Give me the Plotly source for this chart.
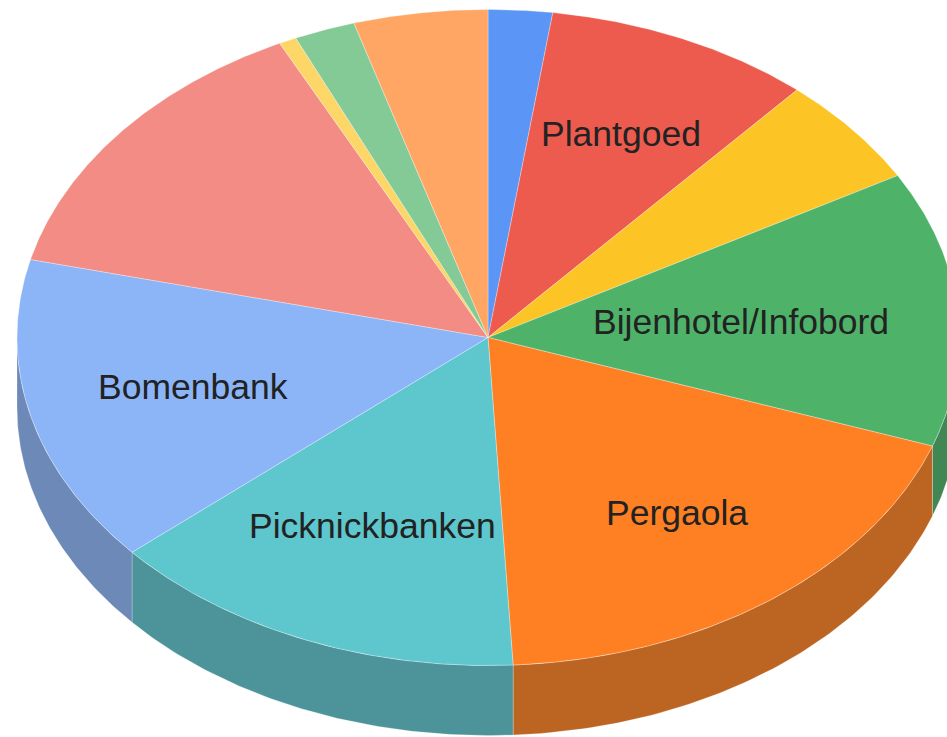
import numpy as np
import plotly.graph_objects as go

# ---- data ----
categories = ["", "Plantgoed", "", "Bijenhotel/Infobord", "Pergaola",
              "Picknickbanken", "Bomenbank", "", "", "", ""]
values = [2.2, 9.2, 5.4, 13.6, 18.8, 14.5, 15.2, 13.9, 0.6, 2.1, 4.6]
base_colors = ["#4285F4", "#EA4335", "#FBBC04", "#34A853", "#FF6D01", "#46BDC6",
               "#7BAAF7", "#F07B72", "#FCD04F", "#71C287", "#FF994D"]

# ---- geometry / style ----
W, H = 947, 737
cx, cy = 488, 337.5
rx, ry = 471, 328
depth = 70
alpha = 0.87
label_frac = [0.66, 0.68, 0.66, 0.54, 0.67, 0.625, 0.645, 0.66, 0.66, 0.66, 0.66]
font_size = 35.5


def hex_rgb(h):
    h = h.lstrip("#")
    return [int(h[i:i + 2], 16) for i in (0, 2, 4)]


def blend(rgb, k=1.0):
    return "rgb({},{},{})".format(*[round(c * k * alpha + 255 * (1 - alpha)) for c in rgb])


def pt(a, dy=0.0):
    return cx + rx * np.sin(a), cy - ry * np.cos(a) + dy


vals = np.array(values, dtype=float)
cum = np.concatenate([[0], np.cumsum(vals)]) / vals.sum() * 2 * np.pi

fig = go.Figure()

# sides (front half of the rim)
for i in range(len(vals)):
    a0, a1 = cum[i], cum[i + 1]
    s0, s1 = max(a0, np.pi / 2), min(a1, 3 * np.pi / 2)
    if s1 <= s0:
        continue
    t = np.linspace(s0, s1, 80)
    xt, yt = pt(t)
    xb, yb = pt(t[::-1], depth)
    fig.add_trace(go.Scatter(
        x=np.concatenate([xt, xb, xt[:1]]), y=np.concatenate([yt, yb, yt[:1]]),
        mode="lines", fill="toself", fillcolor=blend(hex_rgb(base_colors[i]), 0.7),
        line=dict(width=1, color="rgba(255,255,255,0.25)"), hoverinfo="skip"))

# top faces
for i in range(len(vals)):
    a0, a1 = cum[i], cum[i + 1]
    t = np.linspace(a0, a1, max(4, int(200 * (a1 - a0))))
    xa, ya = pt(t)
    fig.add_trace(go.Scatter(
        x=np.concatenate([[cx], xa, [cx]]), y=np.concatenate([[cy], ya, [cy]]),
        mode="lines", fill="toself", fillcolor=blend(hex_rgb(base_colors[i])),
        line=dict(width=1, color="rgba(255,255,255,0.3)"),
        name=categories[i], hoverinfo="name"))

# labels
for i, lab in enumerate(categories):
    if not lab:
        continue
    am = (cum[i] + cum[i + 1]) / 2
    f = label_frac[i]
    x = cx + f * rx * np.sin(am)
    y = cy - f * ry * np.cos(am)
    half = len(lab) * 0.45 * font_size / 2
    x = min(max(x, 10 + half), W - 10 - half)
    fig.add_annotation(x=x, y=y, xref="x", yref="y", text=lab, showarrow=False,
                       font=dict(family="Liberation Sans, Arial", size=font_size, color="#222222"))

fig.update_layout(
    width=W, height=H, margin=dict(l=0, r=0, t=0, b=0),
    paper_bgcolor="white", plot_bgcolor="white", showlegend=False,
    xaxis=dict(range=[0, W], visible=False, fixedrange=True),
    yaxis=dict(range=[H, 0], visible=False, fixedrange=True),
)
fig.write_html("out.html")
